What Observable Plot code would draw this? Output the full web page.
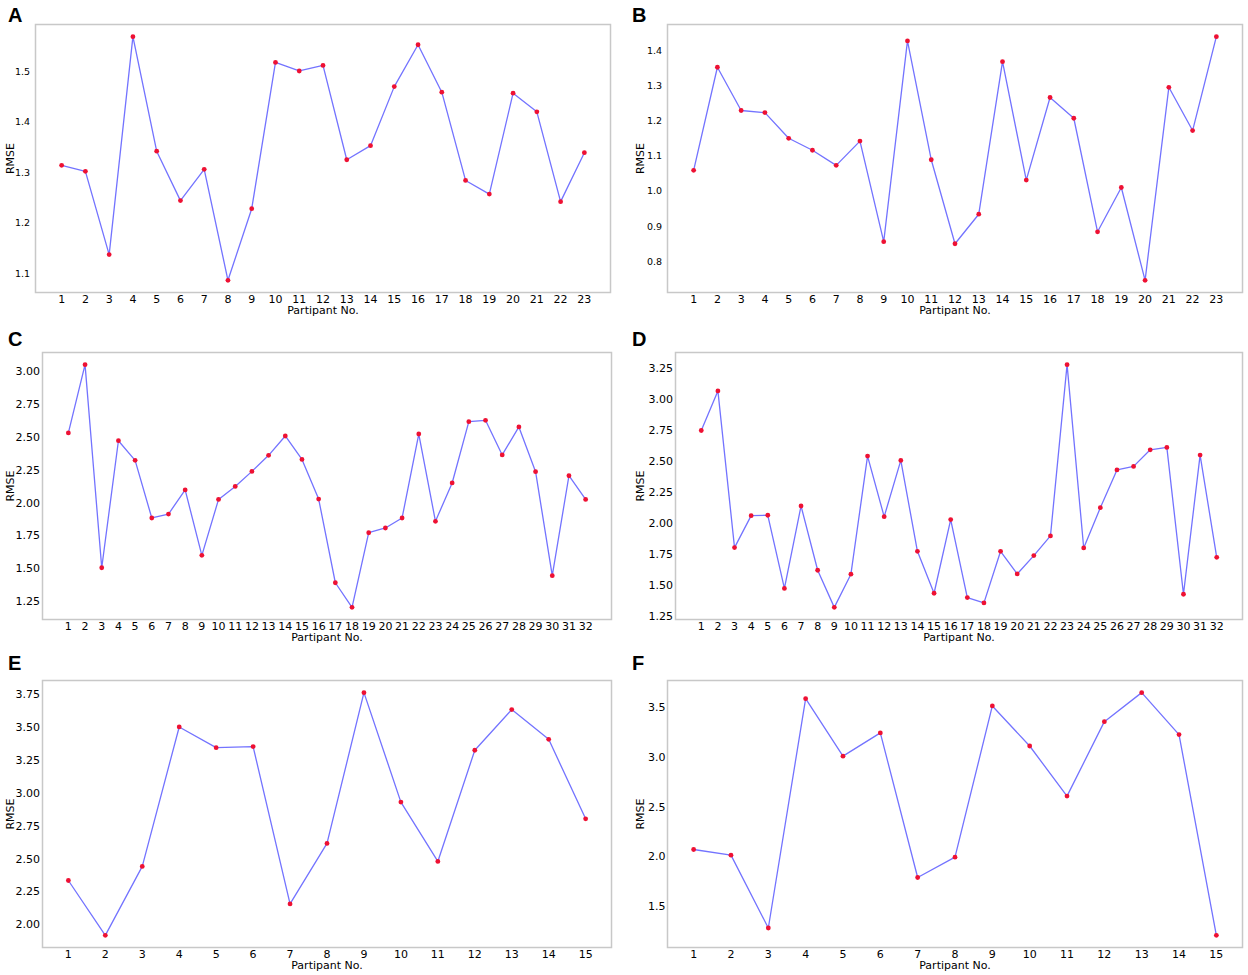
<!DOCTYPE html>
<html><head><meta charset="utf-8">
<script src="https://cdn.jsdelivr.net/npm/d3@7"></script>
<script src="https://cdn.jsdelivr.net/npm/@observablehq/plot@0.6"></script>
<style>
body{margin:0;background:#fff;}
#fig{position:relative;width:1248px;height:975px;overflow:hidden;background:#fff;}
.panel{position:absolute;width:624px;height:325px;}
.panel svg{position:absolute;left:0;top:0;}
.letter{position:absolute;left:8px;font:bold 20px "Liberation Sans",Arial,sans-serif;line-height:20px;color:#000;}
</style></head><body><div id="fig"></div>
<script>
// Participant numbers (x categories / tick labels)
const participants23 = [1,2,3,4,5,6,7,8,9,10,11,12,13,14,15,16,17,18,19,20,21,22,23];
const participants32 = [1,2,3,4,5,6,7,8,9,10,11,12,13,14,15,16,17,18,19,20,21,22,23,24,25,26,27,28,29,30,31,32];
const participants15 = [1,2,3,4,5,6,7,8,9,10,11,12,13,14,15];

// RMSE values per panel
const rmseA = [1.315,1.303,1.138,1.570,1.343,1.245,1.307,1.087,1.229,1.519,1.502,1.513,1.326,1.354,1.471,1.554,1.460,1.285,1.258,1.458,1.421,1.243,1.340];
const rmseB = [1.060,1.353,1.230,1.224,1.151,1.117,1.074,1.143,0.857,1.428,1.090,0.851,0.935,1.369,1.032,1.267,1.208,0.885,1.011,0.747,1.296,1.173,1.440];
const rmseC = [2.532,3.051,1.508,2.473,2.324,1.886,1.916,2.099,1.602,2.027,2.126,2.240,2.362,2.509,2.331,2.030,1.394,1.207,1.774,1.810,1.886,2.524,1.861,2.152,2.618,2.628,2.365,2.578,2.238,1.448,2.207,2.027];
const rmseD = [2.750,3.070,1.804,2.062,2.065,1.474,2.140,1.621,1.321,1.589,2.543,2.054,2.508,1.774,1.435,2.030,1.400,1.357,1.774,1.591,1.739,1.898,3.282,1.801,2.126,2.431,2.460,2.594,2.613,1.427,2.551,1.725];
const rmseE = [2.337,1.920,2.444,3.504,3.347,3.355,2.159,2.619,3.765,2.933,2.482,3.327,3.636,3.410,2.806];
const rmseF = [2.073,2.016,1.283,3.590,3.012,3.246,1.791,1.996,3.517,3.114,2.610,3.359,3.651,3.229,1.209];

// Y tick values
const yTicksA = [1.1,1.2,1.3,1.4,1.5];
const yTicksB = [0.8,0.9,1.0,1.1,1.2,1.3,1.4];
const yTicksC = [1.25,1.50,1.75,2.00,2.25,2.50,2.75,3.00];
const yTicksD = [1.25,1.50,1.75,2.00,2.25,2.50,2.75,3.00,3.25];
const yTicksE = [2.00,2.25,2.50,2.75,3.00,3.25,3.50,3.75];
const yTicksF = [1.5,2.0,2.5,3.0,3.5];

const panelLetters = ["A","B","C","D","E","F"];
const xLabel = "Partipant No.";
const yLabel = "RMSE";

const panels = [
  {letter:panelLetters[0], left:0,   top:0,   lt:5, lx:10, yfs:9.5, ypad:5.5, parts:participants23, vals:rmseA, ticks:yTicksA, dec:1, m:{l:35,r:14,t:24,b:33}},
  {letter:panelLetters[1], left:624, top:0,   lt:5, lx:16, yfs:9.5, ypad:5.5, parts:participants23, vals:rmseB, ticks:yTicksB, dec:1, m:{l:43,r:6,t:24,b:33}},
  {letter:panelLetters[2], left:0,   top:325, lt:4, lx:10, yfs:11,  ypad:2.5, parts:participants32, vals:rmseC, ticks:yTicksC, dec:2, m:{l:42,r:13,t:27,b:31}},
  {letter:panelLetters[3], left:624, top:325, lt:4, lx:16, yfs:11,  ypad:2.5, parts:participants32, vals:rmseD, ticks:yTicksD, dec:2, m:{l:51,r:6,t:27,b:31}},
  {letter:panelLetters[4], left:0,   top:650, lt:3, lx:10, yfs:11,  ypad:2.5, parts:participants15, vals:rmseE, ticks:yTicksE, dec:2, m:{l:42,r:13,t:30,b:28}},
  {letter:panelLetters[5], left:624, top:650, lt:3, lx:16, yfs:11,  ypad:2,   parts:participants15, vals:rmseF, ticks:yTicksF, dec:1, m:{l:43,r:6,t:30,b:28}}
];

const fig = document.getElementById("fig");
const FONT = "'DejaVu Sans', sans-serif";

for (const p of panels) {
  const data = p.parts.map((k, i) => ({k, v: p.vals[i]}));
  const xmin = d3.min(p.parts), xmax = d3.max(p.parts);
  const xpad = 0.05 * (xmax - xmin);
  const vmin = d3.min(p.vals), vmax = d3.max(p.vals);
  const ypad = 0.05 * (vmax - vmin);
  const chart = Plot.plot({
    width: 624,
    height: 325,
    marginLeft: p.m.l, marginRight: p.m.r, marginTop: p.m.t, marginBottom: p.m.b,
    style: {fontFamily: FONT, fontSize: "11px", background: "transparent", color: "#000"},
    x: {domain: [xmin - xpad, xmax + xpad]},
    y: {domain: [vmin - ypad, vmax + ypad]},
    marks: [
      Plot.axisX({ticks: p.parts, tickSize: 0, tickPadding: 3, tickFormat: d => String(d), label: null, fontSize: 11}),
      Plot.axisY({ticks: p.ticks, tickSize: 0, tickPadding: p.ypad, tickFormat: d => d.toFixed(p.dec), label: null, fontSize: p.yfs}),
      Plot.frame({stroke: "#c8c8c8", strokeWidth: 1.5}),
      Plot.line(data, {x: "k", y: "v", stroke: "#7373ff", strokeWidth: 1.3}),
      Plot.dot(data, {x: "k", y: "v", r: 2.4, fill: "#ee1133", stroke: "none"}),
      Plot.text([xLabel], {frameAnchor: "bottom", dy: 18, lineAnchor: "middle", fontSize: 11, fill: "#000"}),
      Plot.text([yLabel], {frameAnchor: "left", rotate: -90, dx: -(p.m.l - p.lx), textAnchor: "middle", lineAnchor: "middle", fontSize: 11, fill: "#000"})
    ]
  });
  const div = document.createElement("div");
  div.className = "panel";
  div.style.left = p.left + "px";
  div.style.top = p.top + "px";
  div.appendChild(chart);
  const lt = document.createElement("div");
  lt.className = "letter";
  lt.style.top = p.lt + "px";
  lt.textContent = p.letter;
  div.appendChild(lt);
  fig.appendChild(div);
}
</script>
</body></html>
